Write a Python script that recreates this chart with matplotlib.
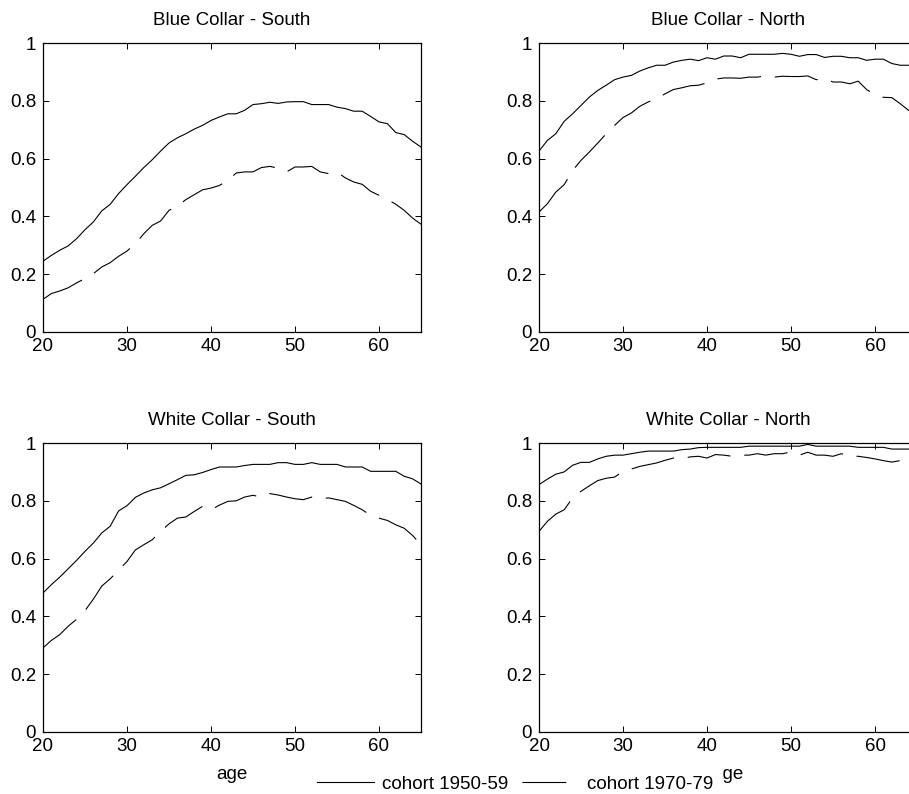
import numpy as np
import matplotlib
matplotlib.use('Agg')
import matplotlib.pyplot as plt

plt.rcParams['font.family'] = ['Liberation Sans', 'DejaVu Sans']
plt.rcParams['lines.scale_dashes'] = False

ages = np.arange(20, 66)

# Blue collar - South
bc_south_5059 = [0.245, 0.265, 0.283, 0.298, 0.323, 0.354, 0.381, 0.419, 0.442, 0.479,
                 0.510, 0.539, 0.569, 0.596, 0.626, 0.654, 0.672, 0.686, 0.702, 0.715,
                 0.732, 0.744, 0.755, 0.755, 0.767, 0.787, 0.790, 0.795, 0.791, 0.796,
                 0.797, 0.797, 0.787, 0.787, 0.787, 0.778, 0.773, 0.764, 0.764, 0.746,
                 0.727, 0.721, 0.690, 0.683, 0.660, 0.640]
bc_south_7079 = [0.113, 0.133, 0.142, 0.153, 0.170, 0.185, 0.202, 0.225, 0.240, 0.262,
                 0.280, 0.306, 0.340, 0.369, 0.384, 0.421, 0.435, 0.458, 0.475, 0.492,
                 0.498, 0.507, 0.525, 0.550, 0.554, 0.554, 0.569, 0.573, 0.567, 0.554,
                 0.571, 0.571, 0.573, 0.554, 0.548, 0.554, 0.533, 0.519, 0.511, 0.487,
                 0.473, 0.459, 0.442, 0.421, 0.394, 0.373]

# Blue collar - North
bc_north_5059 = [0.626, 0.663, 0.686, 0.729, 0.755, 0.784, 0.813, 0.836, 0.854, 0.873,
                 0.882, 0.888, 0.903, 0.914, 0.923, 0.923, 0.934, 0.940, 0.944, 0.939,
                 0.949, 0.944, 0.955, 0.955, 0.949, 0.961, 0.961, 0.961, 0.961, 0.964,
                 0.961, 0.954, 0.960, 0.960, 0.950, 0.954, 0.954, 0.949, 0.949, 0.940,
                 0.944, 0.944, 0.929, 0.923, 0.923, 0.923]
bc_north_7079 = [0.415, 0.444, 0.484, 0.510, 0.559, 0.594, 0.623, 0.654, 0.686, 0.715,
                 0.742, 0.758, 0.781, 0.796, 0.807, 0.824, 0.839, 0.845, 0.852, 0.854,
                 0.862, 0.875, 0.879, 0.879, 0.878, 0.882, 0.882, 0.886, 0.882, 0.885,
                 0.884, 0.884, 0.886, 0.873, 0.877, 0.865, 0.865, 0.859, 0.868, 0.839,
                 0.821, 0.812, 0.811, 0.790, 0.767, 0.750]

# White collar - South
wc_south_5059 = [0.481, 0.510, 0.536, 0.565, 0.594, 0.625, 0.654, 0.689, 0.712, 0.765,
                 0.783, 0.812, 0.827, 0.838, 0.845, 0.859, 0.873, 0.888, 0.890, 0.898,
                 0.908, 0.917, 0.917, 0.917, 0.922, 0.926, 0.926, 0.926, 0.932, 0.932,
                 0.926, 0.926, 0.932, 0.926, 0.926, 0.926, 0.917, 0.917, 0.917, 0.902,
                 0.902, 0.902, 0.902, 0.885, 0.876, 0.858]
wc_south_7079 = [0.291, 0.317, 0.337, 0.366, 0.390, 0.420, 0.460, 0.505, 0.530, 0.560,
                 0.590, 0.630, 0.648, 0.665, 0.694, 0.720, 0.740, 0.744, 0.763, 0.781,
                 0.769, 0.785, 0.798, 0.800, 0.813, 0.819, 0.813, 0.825, 0.820, 0.813,
                 0.807, 0.804, 0.813, 0.807, 0.810, 0.804, 0.798, 0.784, 0.769, 0.750,
                 0.740, 0.732, 0.717, 0.705, 0.680, 0.648]

# White collar - North
wc_north_5059 = [0.856, 0.875, 0.892, 0.900, 0.923, 0.933, 0.933, 0.945, 0.954, 0.958,
                 0.958, 0.963, 0.968, 0.972, 0.972, 0.972, 0.972, 0.977, 0.979, 0.984,
                 0.985, 0.985, 0.985, 0.985, 0.985, 0.989, 0.989, 0.989, 0.989, 0.989,
                 0.989, 0.989, 0.995, 0.989, 0.989, 0.989, 0.989, 0.989, 0.985, 0.985,
                 0.985, 0.985, 0.979, 0.979, 0.979, 0.979]
wc_north_7079 = [0.694, 0.729, 0.754, 0.769, 0.810, 0.833, 0.852, 0.870, 0.878, 0.882,
                 0.902, 0.910, 0.919, 0.925, 0.931, 0.940, 0.948, 0.945, 0.952, 0.954,
                 0.948, 0.960, 0.958, 0.954, 0.958, 0.958, 0.963, 0.958, 0.963, 0.963,
                 0.969, 0.958, 0.968, 0.958, 0.958, 0.954, 0.963, 0.954, 0.954, 0.950,
                 0.945, 0.939, 0.934, 0.939, 0.922, 0.908]

panels = [
    ('Blue Collar - South', bc_south_5059, bc_south_7079),
    ('Blue Collar - North', bc_north_5059, bc_north_7079),
    ('White Collar - South', wc_south_5059, wc_south_7079),
    ('White Collar - North', wc_north_5059, wc_north_7079),
]
labels = ['cohort 1950-59', 'cohort 1970-79']

W, H = 909, 794
fig = plt.figure(figsize=(W / 100, H / 100), dpi=100)

# axes boxes in pixels: left, top, right, bottom
boxes = [(43, 43, 421, 332), (539, 43, 917, 332),
         (43, 443, 421, 732), (539, 443, 917, 732)]

fs = 13.5
dash = (0, (31.5, 10))
for i, (title, s1, s2) in enumerate(panels):
    l, t, r, b = boxes[i]
    ax = fig.add_axes([l / W, 1 - b / H, (r - l) / W, (b - t) / H])
    h1, = ax.plot(ages, s1, color='black', lw=0.8)
    h2, = ax.plot(ages, s2, color='black', lw=0.8, linestyle=dash)
    ax.set_xlim(20, 65)
    ax.set_ylim(0, 1)
    ax.set_xticks([20, 30, 40, 50, 60])
    ax.set_yticks([0, 0.2, 0.4, 0.6, 0.8, 1])
    ax.set_yticklabels(['0', '0.2', '0.4', '0.6', '0.8', '1'])
    ax.tick_params(direction='in', top=True, right=True, length=4, width=0.7,
                   labelsize=fs, pad=5)
    ax.tick_params(axis='x', pad=4)
    for sp in ax.spines.values():
        sp.set_linewidth(0.9)
    ax.set_title(title, fontsize=fs, pad=13)
    if i >= 2:
        ax.set_xlabel('age', fontsize=fs, labelpad=8)

leg = fig.legend([h1, h2], labels, loc='center', ncol=2,
                 bbox_to_anchor=(515 / W, 1 - 784 / H), fontsize=fs,
                 handlelength=3.05, handletextpad=0.43, columnspacing=0.7,
                 frameon=True, fancybox=False, borderpad=0.5)
leg.get_frame().set_edgecolor('white')
leg.get_frame().set_facecolor('white')
leg.get_frame().set_alpha(1)
leg.set_zorder(10)

fig.savefig('out.png', dpi=100)
